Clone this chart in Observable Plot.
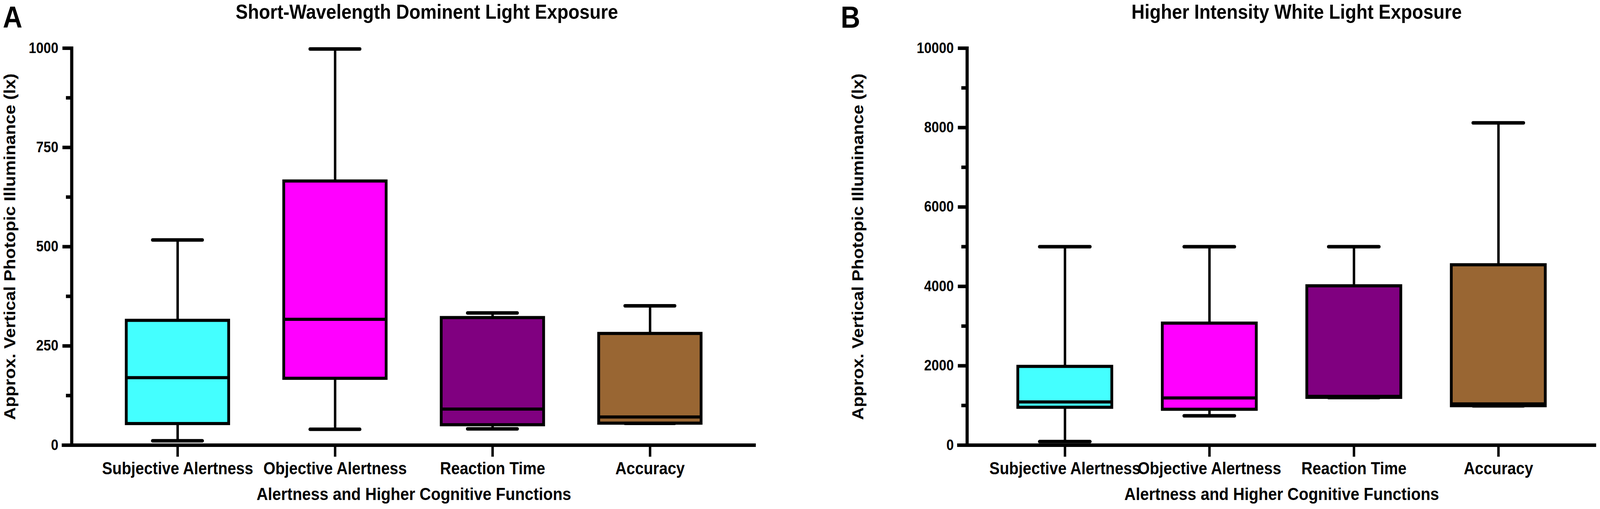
<!DOCTYPE html>
<html>
<head>
<meta charset="utf-8">
<script src="https://cdn.jsdelivr.net/npm/d3@7"></script>
<script src="https://cdn.jsdelivr.net/npm/@observablehq/plot@0.6"></script>
<style>
  html, body { margin: 0; padding: 0; background: #fff; overflow: hidden; }
  body { font-family: "Liberation Sans", Arial, sans-serif; color: #000; }
  #stage { position: absolute; left: 0; top: 0; width: 4562px; height: 1304px; transform-origin: 0 0; }
  #wrap { display: flex; width: 4562px; height: 1304px; }
  .panel { position: relative; flex: none; }
  .head { position: relative; height: 90px; }
  .letter { position: absolute; top: 6px; font-weight: bold; font-size: 77px; line-height: 1; }
  .title { position: absolute; top: 4px; font-weight: bold; font-size: 52px; line-height: 1; white-space: nowrap; }
  svg { display: block; }
</style>
</head>
<body>
<div id="stage"><div id="wrap"></div></div>
<script>
// ---- Data ----
const categories = ["Subjective Alertness", "Objective Alertness", "Reaction Time", "Accuracy"];
const colors = ["#44FFFF", "#FF00FF", "#800080", "#996633"];

// Panel A: Short-Wavelength Dominent Light Exposure (lx)
const aMin    = [11, 40, 41, 55];
const aQ1     = [54, 168, 51, 55];
const aMedian = [170, 317, 91, 71];
const aQ3     = [314, 665, 321, 281];
const aMax    = [517, 998, 333, 351];
const aMajorTicks = [0, 250, 500, 750, 1000];
const aMinorTicks = [125, 375, 625, 875];

// Panel B: Higher Intensity White Light Exposure (lx)
const bMin    = [90, 740, 1200, 990];
const bQ1     = [950, 900, 1200, 990];
const bMedian = [1090, 1190, 1230, 1040];
const bQ3     = [1980, 3070, 4010, 4540];
const bMax    = [5000, 5000, 5000, 8120];
const bMajorTicks = [0, 2000, 4000, 6000, 8000, 10000];
const bMinorTicks = [1000, 3000, 5000, 7000, 9000];

const titleA = "Short-Wavelength Dominent Light Exposure";
const titleB = "Higher Intensity White Light Exposure";
const yTitle = "Approx. Vertical Photopic Illuminance (lx)";
const xTitle = "Alertness and Higher Cognitive Functions";

const FONT = '"Liberation Sans", Arial, Helvetica, sans-serif';

function makePanel(cfg) {
  const data = categories.map((c, i) => ({
    cat: c, color: colors[i],
    min: cfg.min[i], q1: cfg.q1[i], median: cfg.median[i], q3: cfg.q3[i], max: cfg.max[i]
  }));
  return Plot.plot({
    width: cfg.width,
    height: 1214,
    marginTop: 33,
    marginBottom: 164,
    marginLeft: cfg.ml,
    marginRight: cfg.mr,
    style: { fontFamily: FONT, background: "white", color: "black", overflow: "visible", maxWidth: "none" },
    x: { domain: categories, paddingInner: 0.35, paddingOuter: cfg.po, label: null },
    y: { domain: [0, cfg.ymax], label: null },
    color: { type: "identity" },
    marks: [
      Plot.ruleX(data, { x: "cat", y1: "min", y2: "q1", stroke: "black", strokeWidth: 7 }),
      Plot.ruleX(data, { x: "cat", y1: "q3", y2: "max", stroke: "black", strokeWidth: 7 }),
      Plot.barY(data, { x: "cat", y1: "q1", y2: "q3", fill: "color", stroke: "black", strokeWidth: 8 }),
      Plot.tickY(data, { x: "cat", y: "median", stroke: "black", strokeWidth: 8 }),
      Plot.tickY(data, { x: "cat", y: "max", insetLeft: cfg.capInset, insetRight: cfg.capInset, stroke: "black", strokeWidth: 9, strokeLinecap: "round" }),
      Plot.tickY(data, { x: "cat", y: "min", insetLeft: cfg.capInset, insetRight: cfg.capInset, stroke: "black", strokeWidth: 9, strokeLinecap: "round" }),
      Plot.frame({ anchor: "left", stroke: "black", strokeWidth: 9 }),
      Plot.ruleY([0], { insetLeft: -28, stroke: "black", strokeWidth: 9 }),
      Plot.axisY(cfg.major, { tickSize: 26, tickPadding: 12, fontSize: 38, fontWeight: "bold", strokeWidth: 9, label: null, tickFormat: d => String(d) }),
      Plot.axisY(cfg.minor, { tickSize: 16, strokeWidth: 9, label: null, tickFormat: () => "" }),
      Plot.axisX({ tickSize: 30, tickPadding: 13, fontSize: 44, fontWeight: "bold", strokeWidth: 7, label: null }),
      Plot.text([yTitle], { text: d => d, frameAnchor: "left", dx: cfg.ytdx, rotate: -90, textAnchor: "middle", lineAnchor: "middle", fontSize: 45, fontWeight: "bold" }),
      Plot.text([xTitle], { text: d => d, frameAnchor: "bottom", dy: 126, textAnchor: "middle", lineAnchor: "middle", fontSize: 45, fontWeight: "bold" })
    ]
  });
}

function addPanel(cfg) {
  const panel = document.createElement("div");
  panel.className = "panel";
  panel.style.width = cfg.width + "px";
  const head = document.createElement("div");
  head.className = "head";
  const letter = document.createElement("div");
  letter.className = "letter";
  letter.style.left = cfg.letterLeft + "px";
  letter.textContent = cfg.letter;
  const title = document.createElement("div");
  title.className = "title";
  title.style.left = cfg.titleLeft + "px";
  title.textContent = cfg.title;
  head.appendChild(letter);
  head.appendChild(title);
  panel.appendChild(head);
  panel.appendChild(makePanel(cfg));
  document.getElementById("wrap").appendChild(panel);
}

addPanel({
  letter: "A", letterLeft: 8, title: titleA, titleLeft: 672,
  width: 2300, ml: 204, mr: 145, po: 0.343, ymax: 1000, capInset: 75, ytdx: -175,
  min: aMin, q1: aQ1, median: aMedian, q3: aQ3, max: aMax,
  major: aMajorTicks, minor: aMinorTicks
});
addPanel({
  letter: "B", letterLeft: 97, title: titleB, titleLeft: 926,
  width: 2262, ml: 457, mr: 11, po: 0.352, ymax: 10000, capInset: 62, ytdx: -310,
  min: bMin, q1: bQ1, median: bMedian, q3: bQ3, max: bMax,
  major: bMajorTicks, minor: bMinorTicks
});

// Fit the 4562x1304 design frame to the actual viewport
function fit() {
  const sx = window.innerWidth / 4562;
  const sy = window.innerHeight / 1304;
  const stage = document.getElementById("stage");
  stage.style.transform = (Math.abs(sx - 1) < 0.001 && Math.abs(sy - 1) < 0.001) ? "none" : `scale(${sx}, ${sy})`;
}
fit();
window.addEventListener("resize", fit);
</script>
</body>
</html>
